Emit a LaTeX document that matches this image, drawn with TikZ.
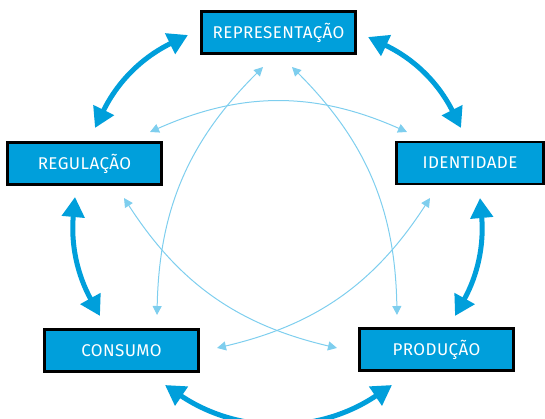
\documentclass[tikz,border=0pt]{standalone}
\usepackage{fontspec}
\setmainfont{Fira Sans}[LetterSpace=2.5]
\usepackage{xcolor}
\usetikzlibrary{arrows.meta}
\definecolor{azul}{HTML}{009FDB}
\definecolor{azulclaro}{HTML}{7ECEEE}

\begin{document}
\begin{tikzpicture}[x=1pt,y=-1pt,
        caixa/.style={draw=black, line width=2.6pt, fill=azul, text=white, inner sep=0pt, minimum width=154pt, minimum height=42pt, font=\fontsize{17}{20}\selectfont},
        setagrossa/.style={azul, line width=5pt, {Triangle[length=20pt,width=22pt]}-{Triangle[length=20pt,width=22pt]}},
        setafina/.style={azulclaro, line width=1pt, {Triangle[length=9pt,width=9pt]}-{Triangle[length=9pt,width=9pt]}}]
        \useasboundingbox (0,0) rectangle (545,419);
        %CAIXAS
        \node[caixa] (rep) at (278.5,32.5) {REPRESENTAÇÃO};
        \node[caixa] (reg) at (84.5,163.5) {REGULAÇÃO};
        \node[caixa, minimum width=147pt] (ide) at (470,163) {IDENTIDADE};
        \node[caixa] (con) at (121.5,350.5) {CONSUMO};
        \node[caixa] (pro) at (436.5,349.5) {PRODUÇÃO};
        %COORDENADAS
        \coordinate (rep-reg) at (188,35);
        \coordinate (reg-rep) at (95,128);
        \coordinate (rep-ide) at (368,37);
        \coordinate (ide-rep) at (461,128);
        \coordinate (ide-pro) at (480,198);
        \coordinate (pro-ide) at (455,316);
        \coordinate (reg-con) at (75,197);
        \coordinate (con-reg) at (100,316);
        \coordinate (con-pro) at (165,385);
        \coordinate (pro-con) at (392,385);
        \coordinate (reg-ide) at (150,132);
        \coordinate (ide-reg) at (407,132);
        \coordinate (rep-con) at (263,67);
        \coordinate (con-rep) at (157,315);
        \coordinate (rep-pro) at (292,67);
        \coordinate (pro-rep) at (397,315);
        \coordinate (reg-pro) at (124,198);
        \coordinate (pro-reg) at (337,348);
        \coordinate (ide-con) at (430,198);
        \coordinate (con-ide) at (217,348);
        %SETAS GROSSAS
        \draw[setagrossa] (rep-reg) to[bend right=19] (reg-rep);
        \draw[setagrossa] (rep-ide) to[bend left=19] (ide-rep);
        \draw[setagrossa] (ide-pro) to[bend left=17] (pro-ide);
        \draw[setagrossa] (reg-con) to[bend right=17] (con-reg);
        \draw[setagrossa] (con-pro) to[bend right=34] (pro-con);
        %SETAS FINAS
        \draw[setafina] (reg-ide) to[bend left=24] (ide-reg);
        \draw[setafina] (rep-con) to[bend right=22] (con-rep);
        \draw[setafina] (rep-pro) to[bend left=22] (pro-rep);
        \draw[setafina] (reg-pro) to[bend right=22] (pro-reg);
        \draw[setafina] (ide-con) to[bend left=22] (con-ide);
    \end{tikzpicture}
\end{document}
